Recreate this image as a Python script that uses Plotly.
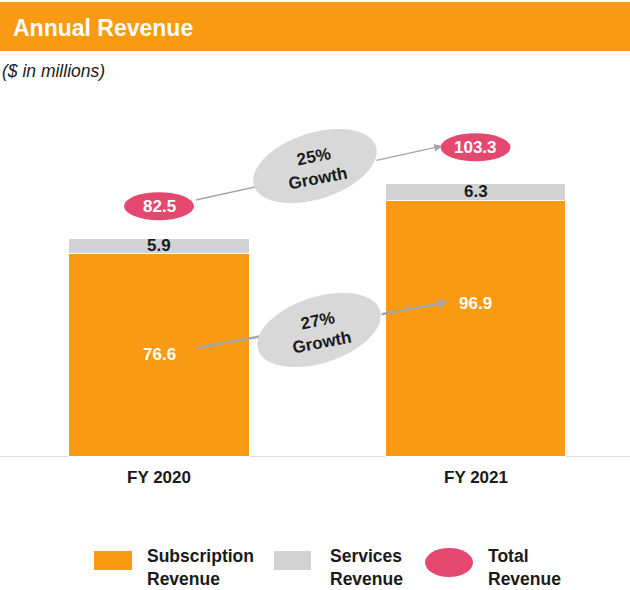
import numpy as np
import plotly.graph_objects as go

# ---------------- data ----------------
categories = ["FY 2020", "FY 2021"]
subscription = [76.6, 96.9]
services = [5.9, 6.3]
totals = [82.5, 103.3]
growth_total_label = "25%<br>Growth"
growth_sub_label = "27%<br>Growth"
legend_labels = ["Subscription<br>Revenue", "Services<br>Revenue", "Total<br>Revenue"]
title_text = "Annual Revenue"
subtitle_text = "($ in millions)"

# ---------------- style ----------------
W, H = 630, 590
ORANGE = "#F99A12"
GREY = "#D2D2D2"
PINK = "#E4486F"
ELL = "#D8D8D8"
ARROW = "#A6A6A6"
TXT = "#1A1A1A"
FONT = "Liberation Sans, Arial, sans-serif"

BASE_PY = 456.0      # pixel row of the zero line
PX_PER_UNIT = 2.64   # pixels per $M
X0_PX = 159.0        # pixel centre of first category
STEP_PX = 316.5      # pixels between categories


def dx(px):
    return (px - X0_PX) / STEP_PX


def dy(py):
    return (BASE_PY - py) / PX_PER_UNIT


def ppx(px):
    return px / W


def ppy(py):
    return 1 - py / H


xpos = list(range(len(categories)))

fig = go.Figure()
fig.add_bar(x=xpos, y=subscription, width=0.569, name="Subscription Revenue",
            marker=dict(color=ORANGE, line=dict(color="white", width=1)),
            hoverinfo="skip", showlegend=False)
fig.add_bar(x=xpos, y=services, width=0.569, name="Services Revenue",
            marker=dict(color=GREY, line=dict(color="white", width=1)),
            hoverinfo="skip", showlegend=False)

shapes = []
annotations = []

# header band
shapes.append(dict(type="rect", xref="paper", yref="paper", x0=0, x1=1,
                   y0=ppy(51), y1=ppy(2), fillcolor=ORANGE, line=dict(width=0),
                   layer="below"))
annotations.append(dict(xref="paper", yref="paper", x=ppx(11), y=ppy(28),
                        xanchor="left", yanchor="middle", showarrow=False,
                        text=title_text,
                        font=dict(family=FONT, size=23, color="white", weight="bold")))
annotations.append(dict(xref="paper", yref="paper", x=ppx(0), y=ppy(71),
                        xanchor="left", yanchor="middle", showarrow=False,
                        text="<i>" + subtitle_text + "</i>",
                        font=dict(family=FONT, size=17.5, color=TXT)))

# value labels
sub_label_frac = [0.5, 0.595]
for i in xpos:
    annotations.append(dict(x=i, y=subscription[i] * sub_label_frac[i], xref="x", yref="y",
                            showarrow=False, text=f"{subscription[i]:.1f}",
                            font=dict(family=FONT, size=17, color="white", weight="bold")))
    annotations.append(dict(x=i, y=subscription[i] + services[i] / 2, xref="x", yref="y",
                            showarrow=False, text=f"{services[i]:.1f}",
                            font=dict(family=FONT, size=17, color=TXT, weight="bold")))
    # category labels
    annotations.append(dict(x=i, y=0, xref="x", yref="y", yshift=-21, yanchor="middle",
                            showarrow=False, text=categories[i],
                            font=dict(family=FONT, size=17, color=TXT, weight="bold")))


# arrows (line segment under the growth ellipse, arrow after it)
def add_arrow(start, tip, edge_in, edge_out, width):
    (sx, sy), (tx, ty) = start, tip
    f = lambda px: sy + (px - sx) * (ty - sy) / (tx - sx)
    shapes.append(dict(type="line", xref="x", yref="y",
                       x0=dx(sx), y0=dy(sy), x1=dx(edge_in + 15), y1=dy(f(edge_in + 15)),
                       line=dict(color=ARROW, width=width), layer="above"))
    annotations.append(dict(x=dx(tx), y=dy(ty), ax=dx(edge_out), ay=dy(f(edge_out)),
                            xref="x", yref="y", axref="x", ayref="y", text="",
                            showarrow=True, arrowhead=2, arrowsize=1.1 if width < 2 else 0.8,
                            arrowwidth=width, arrowcolor=ARROW))


add_arrow((196, 200), (442, 146), 256, 375, 1.4)
add_arrow((197, 348), (448, 302), 258, 380, 2.5)


# growth ellipses
def ellipse_path(a, b, deg, n=72):
    th = np.radians(deg)
    t = np.linspace(0, 2 * np.pi, n, endpoint=False)
    xs = a * np.cos(th) * np.cos(t) - b * np.sin(th) * np.sin(t)
    ys = a * np.sin(th) * np.cos(t) + b * np.cos(th) * np.sin(t)
    pts = [f"{x:.2f},{y:.2f}" for x, y in zip(xs, ys)]
    return "M" + " L".join(pts) + " Z"


for (cx, cy), label in [((315, 166), growth_total_label), ((319, 330), growth_sub_label)]:
    shapes.append(dict(type="path", xref="x", yref="y", xsizemode="pixel", ysizemode="pixel",
                       xanchor=dx(cx), yanchor=dy(cy), path=ellipse_path(64, 33, 18),
                       fillcolor=ELL, line=dict(width=0), layer="above"))
    annotations.append(dict(x=dx(cx + 1), y=dy(cy + 1), xref="x", yref="y", showarrow=False,
                            text=label, textangle=-11,
                            font=dict(family=FONT, size=17, color=TXT, weight="bold")))

# total ellipses
total_offset_px = [32, 36]
for i in xpos:
    off = total_offset_px[i]
    shapes.append(dict(type="circle", xref="x", yref="y", xsizemode="pixel", ysizemode="pixel",
                       xanchor=i, yanchor=totals[i], x0=-35, x1=35, y0=off - 14, y1=off + 14,
                       fillcolor=PINK, line=dict(width=0), layer="above"))
    annotations.append(dict(x=i, y=totals[i], yshift=off, xref="x", yref="y", showarrow=False,
                            text=f"{totals[i]:.1f}",
                            font=dict(family=FONT, size=17, color="white", weight="bold")))

# legend
shapes.append(dict(type="rect", xref="paper", yref="paper", x0=ppx(94), x1=ppx(132),
                   y0=ppy(570), y1=ppy(551), fillcolor=ORANGE, line=dict(width=0)))
shapes.append(dict(type="rect", xref="paper", yref="paper", x0=ppx(274), x1=ppx(311),
                   y0=ppy(570), y1=ppy(551), fillcolor=GREY, line=dict(width=0)))
shapes.append(dict(type="circle", xref="paper", yref="paper", x0=ppx(425), x1=ppx(473),
                   y0=ppy(577), y1=ppy(548), fillcolor=PINK, line=dict(width=0)))
for lx, lbl in zip([145, 328, 486], legend_labels):
    annotations.append(dict(xref="paper", yref="paper", x=ppx(lx), y=ppy(567),
                            xanchor="left", yanchor="middle", align="left", showarrow=False,
                            text=lbl,
                            font=dict(family=FONT, size=17.5, color=TXT, weight="bold")))

fig.update_layout(
    width=W, height=H, barmode="stack",
    margin=dict(l=0, r=0, t=0, b=0),
    paper_bgcolor="white", plot_bgcolor="white",
    xaxis=dict(range=[dx(0), dx(W)], visible=False, fixedrange=True),
    yaxis=dict(range=[dy(H), dy(0)], showgrid=False, showticklabels=False,
               zeroline=True, zerolinecolor="#DADADA", zerolinewidth=1, fixedrange=True),
    shapes=shapes, annotations=annotations, showlegend=False, hovermode=False,
)

fig.write_html(
    "out.html",
    config={"displayModeBar": False, "staticPlot": True},
    post_script="document.body.style.margin='0';document.body.style.overflow='hidden';",
)
